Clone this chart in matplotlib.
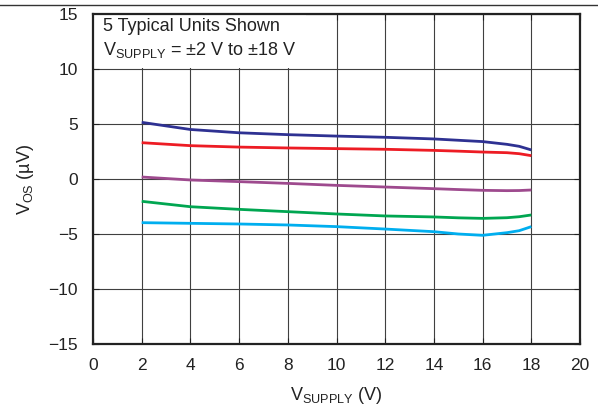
"""Offset voltage vs supply voltage, 5 typical units."""

import matplotlib
matplotlib.use("Agg")
import matplotlib.pyplot as plt
from matplotlib.lines import Line2D
from matplotlib.patches import Rectangle

plt.rcParams["font.family"] = ["Liberation Sans", "DejaVu Sans"]

V_SUPPLY = [2, 4, 6, 8, 10, 12, 14, 15, 16, 17, 17.5, 18]
UNIT_1 = [5.15, 4.5, 4.2, 4.03, 3.9, 3.79, 3.64, 3.52, 3.4, 3.15, 2.97, 2.64]
UNIT_2 = [3.3, 3.03, 2.9, 2.82, 2.76, 2.7, 2.6, 2.53, 2.45, 2.39, 2.3, 2.12]
UNIT_3 = [0.18, -0.09, -0.24, -0.4, -0.58, -0.73, -0.88, -0.96, -1.03, -1.06, -1.05, -1.0]
UNIT_4 = [-2.03, -2.52, -2.76, -2.97, -3.18, -3.36, -3.45, -3.53, -3.58, -3.52, -3.43, -3.27]
UNIT_5 = [-3.97, -4.03, -4.09, -4.18, -4.33, -4.55, -4.79, -5.0, -5.12, -4.88, -4.7, -4.33]

UNITS = [UNIT_1, UNIT_2, UNIT_3, UNIT_4, UNIT_5]
COLORS = ["#2E3192", "#ED1C24", "#9E4A8E", "#00A651", "#00AEEF"]

X_TICKS = list(range(0, 21, 2))
Y_TICKS = list(range(-15, 16, 5))


def main():
    fig = plt.figure(figsize=(5.98, 4.11), dpi=100)
    ax = fig.add_axes([0.1555, 0.163, 0.8145, 0.803])

    ax.set_xlim(0, 20)
    ax.set_ylim(-15, 15)
    ax.set_xticks(X_TICKS)
    ax.set_yticks(Y_TICKS)
    ax.grid(True, color="#404040", linewidth=0.8, zorder=0)
    ax.set_axisbelow(True)
    ax.tick_params(direction="in", length=4, width=0.8, labelsize=12.5,
                   top=True, right=True, colors="#222222")
    ax.tick_params(axis="x", pad=10)
    ax.tick_params(axis="y", pad=11)

    for spine in ax.spines.values():
        spine.set_linewidth(1.6)
        spine.set_color("#222222")

    for values, color in zip(UNITS, COLORS):
        ax.plot(V_SUPPLY, values, color=color, linewidth=2.0, zorder=3,
                solid_capstyle="butt", solid_joinstyle="round")

    # white label box that hides the grid behind the note
    ax.add_patch(Rectangle((0.05, 10.05), 8.7, 4.9, facecolor="white",
                           edgecolor="none", zorder=2))
    ax.text(0.4, 13.9, "5 Typical Units Shown", fontsize=13,
            va="center", ha="left", zorder=4, color="#222222")
    ax.text(0.4, 11.7, "V$_{\\mathregular{SUPPLY}}$ = ±2 V to ±18 V",
            fontsize=13, va="center", ha="left", zorder=4, color="#222222")

    ax.set_xlabel("V$_{\\mathregular{SUPPLY}}$ (V)", fontsize=13,
                  labelpad=9, color="#222222")
    ax.set_ylabel("V$_{\\mathregular{OS}}$ (µV)", fontsize=13,
                  labelpad=9, color="#222222")

    fig.add_artist(Line2D([0, 1], [0.988, 0.988], transform=fig.transFigure,
                          color="#333333", linewidth=1.0))

    fig.savefig("out.png", dpi=100)
    plt.close(fig)


if __name__ == "__main__":
    main()
